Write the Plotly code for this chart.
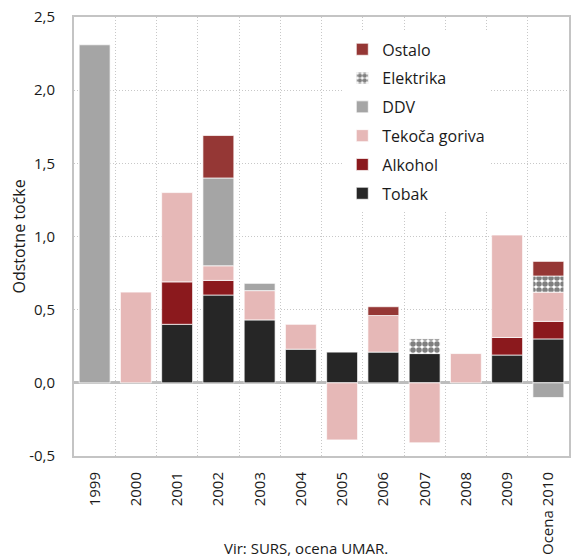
import plotly.graph_objects as go

categories = ["1999", "2000", "2001", "2002", "2003", "2004", "2005", "2006",
              "2007", "2008", "2009", "Ocena 2010"]

tobak = [0, 0, 0.40, 0.60, 0.43, 0.23, 0.21, 0.21, 0.20, 0, 0.19, 0.30]
alkohol = [0, 0, 0.29, 0.10, 0, 0, 0, 0, 0, 0, 0.12, 0.12]
tekoca_goriva = [0, 0.62, 0.61, 0.10, 0.20, 0.17, -0.39, 0.25, -0.41, 0.20, 0.70, 0.20]
ddv = [2.31, 0, 0, 0.60, 0.05, 0, 0, 0, 0, 0, 0, -0.10]
elektrika = [0, 0, 0, 0, 0, 0, 0, 0, 0.10, 0, 0, 0.11]
ostalo = [0, 0, 0, 0.29, 0, 0, 0, 0.06, 0, 0, 0, 0.10]

y_tickvals = [-0.5, 0, 0.5, 1.0, 1.5, 2.0, 2.5]
y_ticktext = ["-0,5", "0,0", "0,5", "1,0", "1,5", "2,0", "2,5"]

series = [
    ("Tobak", tobak, "#262626", None),
    ("Alkohol", alkohol, "#8b191d", None),
    ("Tekoča goriva", tekoca_goriva, "#e6b8b7", None),
    ("DDV", ddv, "#a5a5a5", None),
    ("Elektrika", elektrika, "white", dict(shape=".", fgcolor="black", bgcolor="white",
                                            size=6, solidity=0.68, fillmode="overlay")),
    ("Ostalo", ostalo, "#953735", None),
]

FONT = "Open Sans"

fig = go.Figure()
for i, (name, vals, color, pattern) in enumerate(series):
    marker = dict(color=color, line=dict(color="rgba(255,255,255,0.7)", width=1))
    if pattern:
        marker["pattern"] = pattern
    fig.add_trace(go.Bar(
        x=categories, y=[v if v != 0 else None for v in vals], name=name,
        marker=marker, legendgroup=name, legendrank=100 - 10 * i,
    ))

fig.update_layout(
    barmode="relative",
    bargap=0.25,
    width=576, height=558,
    margin=dict(l=74, r=7, t=17, b=102),
    paper_bgcolor="white", plot_bgcolor="white",
    font=dict(family=FONT, size=15, color="#1a1a1a"),
    legend=dict(
        x=0.542, y=0.965, xanchor="left", yanchor="top",
        traceorder="grouped", tracegroupgap=5,
        bgcolor="white", font=dict(size=16),
        itemclick=False,
    ),
    xaxis=dict(
        type="category", tickson="boundaries", tickangle=-90,
        showgrid=True, gridcolor="#c8c8c8", griddash="1px,2px", gridwidth=1,
        showline=True, mirror=True, linecolor="#c4c4c4", linewidth=2,
        ticks="", ticklabelstandoff=8, automargin=False,
    ),
    yaxis=dict(
        range=[-0.5, 2.5], tickvals=y_tickvals, ticktext=y_ticktext,
        showgrid=True, gridcolor="#c8c8c8", griddash="1px,2px", gridwidth=1,
        zeroline=True, zerolinecolor="#bdbdbd", zerolinewidth=2.5,
        showline=True, mirror=True, linecolor="#c4c4c4", linewidth=2,
        ticks="", ticklabelstandoff=14, automargin=False,
    ),
    annotations=[
        dict(text="Vir: SURS, ocena UMAR.", xref="paper", yref="paper",
             x=0.469, y=-0.209, xanchor="center", yanchor="middle",
             showarrow=False, font=dict(size=15)),
        dict(text="Odstotne točke", xref="paper", yref="paper",
             x=-0.113, y=0.5, xanchor="center", yanchor="middle", textangle=-90,
             showarrow=False, font=dict(size=16)),
    ],
)

fig.write_html("out.html", config={"displayModeBar": False},
               post_script="document.body.style.margin='0px';")
